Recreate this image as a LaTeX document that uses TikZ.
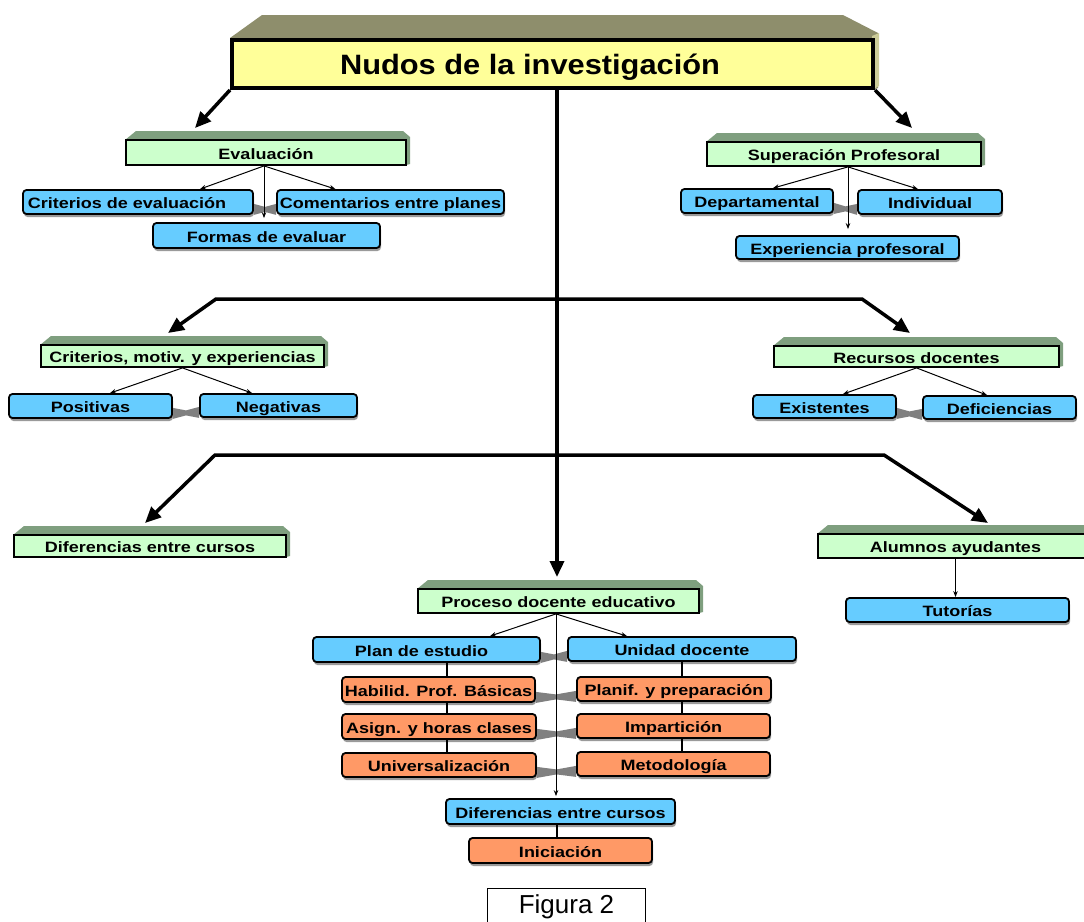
\documentclass[tikz,border=0pt]{standalone}
\usepackage{fontspec}
\newfontfamily\labfont{Liberation Sans}[FakeStretch=1.2]
\newfontfamily\titfont{Liberation Sans}[FakeStretch=1.1]
\newfontfamily\figfont{Liberation Sans}
\usetikzlibrary{arrows.meta,shadows,backgrounds,calc}
\definecolor{ttlfill}{HTML}{FFFF99}
\definecolor{ttlbevel}{HTML}{8E8E6C}
\definecolor{ttlside}{HTML}{CCCC99}
\definecolor{gfill}{HTML}{CCFFCC}
\definecolor{gbevel}{HTML}{7F9F7F}
\definecolor{bfill}{HTML}{66CCFF}
\definecolor{ofill}{HTML}{FF9966}
\definecolor{tiegray}{HTML}{808080}
\definecolor{shadowgray}{HTML}{9A9A9A}
\tikzset{
 lab/.style={inner sep=0pt, text height=13.5pt, text depth=0pt, font=\labfont\bfseries\fontsize{15}{17}\selectfont},
 greenbox/.style={lab, draw, line width=1.8pt, fill=gfill},
 bluebox/.style={lab, draw, line width=1.8pt, rounded corners=3.5pt, fill=bfill, drop shadow={shadow xshift=1pt, shadow yshift=-3pt, fill=shadowgray, opacity=1}},
 orangebox/.style={bluebox, fill=ofill},
 smallarrow/.style={line width=1pt, -{Stealth[length=6pt,width=4.5pt]}},
 linkline/.style={line width=2pt},
 bigarrow/.style={line width=3.5pt, -{Triangle[length=16pt,width=14pt]}},
 bigline/.style={line width=3.5pt, {Triangle[length=16pt,width=14pt]}-{Triangle[length=16pt,width=14pt]}},
}
\newcommand\gnode[6]{%
  \fill[gbevel] (#2-#4/2-1,#3-#5/2) -- (#2-#4/2+10,#3-#5/2-9) -- (#2+#4/2-3,#3-#5/2-9) -- (#2+#4/2+4,#3-#5/2-3) -- (#2+#4/2+4,#3+#5/2-1) -- (#2+#4/2,#3+#5/2) -- cycle;
  \node[greenbox, minimum width=#4, minimum height=#5] (#1) at (#2,#3) {#6};}
\newcommand\bxnode[7]{%
  \node[#1, minimum width=#5, minimum height=#6] (#2) at (#3,#4) {#7};}
\newcommand\tie[2]{%
  \fill[tiegray] ([yshift=11pt]#1.south east) -- ($([yshift=11pt]#1.south east)!.5!([yshift=11pt]#2.south west)+(0,3)$) -- ([yshift=11pt]#2.south west) -- (#2.south west) -- ($(#1.south east)!.5!(#2.south west)+(0,-3)$) -- (#1.south east) -- cycle;}
\begin{document}
\begin{tikzpicture}[x=1pt,y=-1pt]
\useasboundingbox (0,0) rectangle (1084,921);
\clip (0,0) rectangle (1084,921);
% title
\fill[ttlbevel] (230,38) -- (262,15) -- (843,15) -- (878,33) -- (878,88) -- (873,90) -- cycle;
\fill[ttlside] (872,36) -- (879,33) -- (879,86) -- (872,90) -- cycle;
\node[draw, line width=4pt, fill=ttlfill, minimum width=641, minimum height=48, inner sep=0pt,
  text height=20pt, text depth=0pt, font=\titfont\bfseries\fontsize{28}{30}\selectfont]
  (title) at (552.5,64) {\hspace*{-45pt}Nudos de la investigaci\'on};
% green boxes
\gnode{ev}{266}{152.5}{280}{25}{Evaluaci\'on}
\gnode{sup}{844}{154}{274}{24}{Superaci\'on Profesoral}
\gnode{crit}{182.5}{356}{283}{22}{Criterios, motiv. y experiencias}
\gnode{rec}{916.5}{356.5}{285}{21}{Recursos docentes}
\gnode{difa}{150}{546}{272}{22}{Diferencias entre cursos}
\gnode{alu}{955.5}{546}{275}{24}{Alumnos ayudantes}
\gnode{proc}{558.5}{601}{281}{24}{Proceso docente educativo}
% blue boxes
\bxnode{bluebox}{critev}{138}{202}{230}{24}{\hspace*{-22pt}Criterios de evaluaci\'on}
\bxnode{bluebox}{coment}{390.5}{202}{227}{24}{Comentarios entre planes}
\bxnode{bluebox}{formas}{266.5}{235.5}{227}{25}{Formas de evaluar}
\bxnode{bluebox}{depto}{757}{201}{152}{24}{Departamental}
\bxnode{bluebox}{indiv}{930}{202}{144}{24}{Individual}
\bxnode{bluebox}{exper}{847.5}{247.5}{223}{23}{Experiencia profesoral}
\bxnode{bluebox}{posit}{90.5}{406}{163}{24}{Positivas}
\bxnode{bluebox}{negat}{278.5}{405.5}{157}{23}{Negativas}
\bxnode{bluebox}{exist}{824.5}{406.5}{143}{23}{Existentes}
\bxnode{bluebox}{defic}{999.5}{407.5}{153}{23}{Deficiencias}
\bxnode{bluebox}{tutor}{957.5}{610}{223}{24}{Tutor\'ias}
\bxnode{bluebox}{plan}{426.5}{649.5}{227}{25}{\hspace*{-10pt}Plan de estudio}
\bxnode{bluebox}{unid}{682}{649}{228}{24}{Unidad docente}
\bxnode{bluebox}{difb}{560.5}{811.5}{229}{25}{Diferencias entre cursos}
% orange boxes
\bxnode{orangebox}{habil}{438.5}{689.5}{193}{25}{Habilid. Prof. B\'asicas}
\bxnode{orangebox}{planif}{674}{689}{194}{24}{Planif. y preparaci\'on}
\bxnode{orangebox}{asign}{439}{726.5}{194}{25}{Asign. y horas clases}
\bxnode{orangebox}{impart}{673.5}{726}{193}{24}{Impartici\'on}
\bxnode{orangebox}{univ}{439}{765}{194}{24}{Universalizaci\'on}
\bxnode{orangebox}{metod}{673.5}{764}{193}{24}{Metodolog\'ia}
\bxnode{orangebox}{inic}{560.5}{850.5}{183}{25}{Iniciaci\'on}
% figure caption
\node[draw, line width=0.8pt, minimum width=158, minimum height=37, inner sep=0pt,
  font=\figfont\fontsize{26}{28}\selectfont] (fig) at (566.5,906.5) {Figura 2};
% ties between paired boxes
\begin{scope}[on background layer]
\tie{critev}{coment}
\tie{depto}{indiv}
\tie{posit}{negat}
\tie{exist}{defic}
\tie{plan}{unid}
\tie{habil}{planif}
\tie{asign}{impart}
\tie{univ}{metod}
\end{scope}
% big connectors
\coordinate (t1) at (195,128);
\coordinate (t2) at (912,128);
\coordinate (c0) at (557,90);
\coordinate (c1) at (557,577);
\coordinate (h1l) at (216,299);
\coordinate (h1r) at (862,299);
\coordinate (t3) at (168,333);
\coordinate (t4) at (910,333);
\coordinate (h2l) at (215,455);
\coordinate (h2r) at (884,455);
\coordinate (t5) at (145,523);
\coordinate (t6) at (988,523);
\draw[bigarrow] (title.south west) -- (t1);
\draw[bigarrow] (title.south east) -- (t2);
\draw[bigarrow] (c0) -- (c1);
\draw[bigline] (t3) -- (h1l) -- (h1r) -- (t4);
\draw[bigline] (t5) -- (h2l) -- (h2r) -- (t6);
% small arrows
\coordinate (es) at ([xshift=-2pt]ev.south);
\draw[smallarrow] (es) -- ($(critev.north)+(62,0)$);
\draw[smallarrow] (es) -- ($(coment.north)+(-55,0)$);
\draw[smallarrow] (es) -- ([yshift=4pt]es |- formas.north);
\coordinate (ss) at ([xshift=4pt]sup.south);
\draw[smallarrow] (ss) -- ($(depto.north)+(16,0)$);
\draw[smallarrow] (ss) -- ($(indiv.north)+(-12,0)$);
\draw[smallarrow] (ss) -- ([yshift=6pt]ss |- exper.north);
\draw[smallarrow] (crit.south) -- ($(posit.north)+(19.5,0)$);
\draw[smallarrow] (crit.south) -- ($(negat.north)+(-26.5,0)$);
\draw[smallarrow] (rec.south) -- ($(exist.north)+(18.5,0)$);
\draw[smallarrow] (rec.south) -- ($(defic.north)+(-12.5,0)$);
\draw[smallarrow] (alu.south) -- (alu.south |- tutor.north);
\coordinate (ps) at ([xshift=-2.5pt]proc.south);
\draw[smallarrow] (ps) -- ($(plan.north)+(63.5,0)$);
\draw[smallarrow] (ps) -- ($(unid.north)+(-55,0)$);
\draw[smallarrow] (ps) -- ([yshift=2pt]ps |- difb.north);
% links
\coordinate (lx) at (446.5,0);
\coordinate (rx) at (682,0);
\draw[linkline] (plan.south -| lx) -- (habil.north -| lx);
\draw[linkline] (habil.south -| lx) -- (asign.north -| lx);
\draw[linkline] (asign.south -| lx) -- (univ.north -| lx);
\draw[linkline] (unid.south -| rx) -- (planif.north -| rx);
\draw[linkline] (planif.south -| rx) -- (impart.north -| rx);
\draw[linkline] (impart.south -| rx) -- (metod.north -| rx);
\draw[linkline] ([xshift=-3.5pt]difb.south) -- ([xshift=-3.5pt]difb.south |- inic.north);
\end{tikzpicture}
\end{document}
